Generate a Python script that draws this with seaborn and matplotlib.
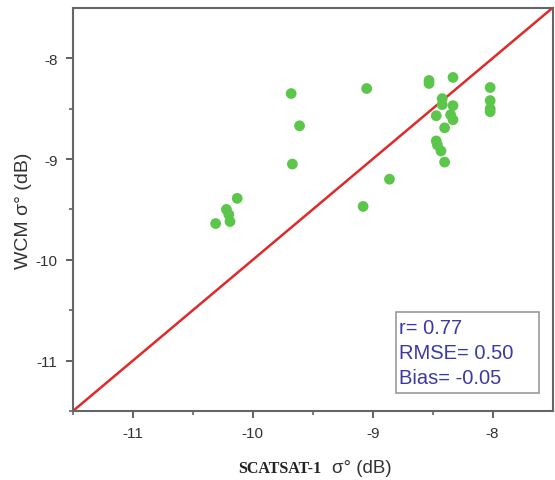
import numpy as np
import pandas as pd
import matplotlib
matplotlib.use("Agg")
import matplotlib.pyplot as plt
from matplotlib.patches import Rectangle
import seaborn as sns

# SCATSAT-1 vs WCM backscatter (dB)
scatsat = [-9.68, -9.61, -9.67, -9.05, -9.08, -10.13, -10.22, -10.20, -10.19, -10.31,
           -8.53, -8.53, -8.33, -8.02, -8.02, -8.02, -8.02, -8.42, -8.42, -8.33,
           -8.47, -8.35, -8.33, -8.40, -8.47, -8.46, -8.43, -8.40, -8.86]
wcm = [-8.35, -8.67, -9.05, -8.30, -9.47, -9.39, -9.50, -9.55, -9.62, -9.64,
       -8.22, -8.25, -8.19, -8.29, -8.42, -8.50, -8.53, -8.40, -8.46, -8.47,
       -8.57, -8.56, -8.61, -8.69, -8.82, -8.86, -8.92, -9.03, -9.20]
one_to_one = [-11.5, -7.5]
ticks = [-11, -10, -9, -8]
stats = ["r= 0.77", "RMSE= 0.50", "Bias= -0.05"]

sns.set_style("ticks")
plt.rcParams['font.family'] = ['Liberation Sans', 'DejaVu Sans']
plt.rcParams['axes.unicode_minus'] = False

df = pd.DataFrame({'x': scatsat, 'y': wcm})

fig = plt.figure(figsize=(5.55, 4.81), dpi=100)
ax = fig.add_axes([0.1315, 0.1435, 0.864, 0.838])

sns.lineplot(x=one_to_one, y=one_to_one, color='#e02a2a', lw=1.8, ax=ax, zorder=2)
sns.scatterplot(data=df, x='x', y='y', color='#5cc64a', s=60, edgecolor='none', ax=ax, zorder=3)

ax.set_xlim(-11.5, -7.5)
ax.set_ylim(-11.5, -7.5)
ax.set_xticks(ticks)
ax.set_yticks(ticks)
ax.set_xticks([-11.5, -10.5, -9.5, -8.5], minor=True)
ax.set_yticks([-11.5, -10.5, -9.5, -8.5], minor=True)
ax.tick_params(which='major', direction='out', length=5, width=1.3, colors='#555555',
               labelcolor='#333333', labelsize=11, pad=6)
ax.tick_params(which='minor', direction='out', length=3, width=1.1, colors='#555555')
for s in ax.spines.values():
    s.set_color('#666666')
    s.set_linewidth(1.5)
    s.set_visible(True)

ax.set_xlabel('')
ax.set_ylabel('WCM σ° (dB)', fontsize=14, color='#333333')
ax.yaxis.set_label_coords(-0.085, 0.5)

fig.text(0.429, 0.0166, 'SCATSAT-1', family='Liberation Serif', weight='bold',
         fontsize=11.5, color='#222222', va='baseline')
fig.text(0.598, 0.0166, 'σ° (dB)', fontsize=13.5, color='#333333', va='baseline')

# stats box
ax.add_patch(Rectangle((0.673, 0.045), 0.298, 0.201, transform=ax.transAxes,
                       fc='white', ec='#999999', lw=1.2, zorder=4))
for yy, s in zip([0.208, 0.146, 0.082], stats):
    ax.text(0.679, yy, s, transform=ax.transAxes, fontsize=14.5, color='#3a3aa6',
            va='center', ha='left', zorder=5)

fig.savefig('out.png', dpi=100)
